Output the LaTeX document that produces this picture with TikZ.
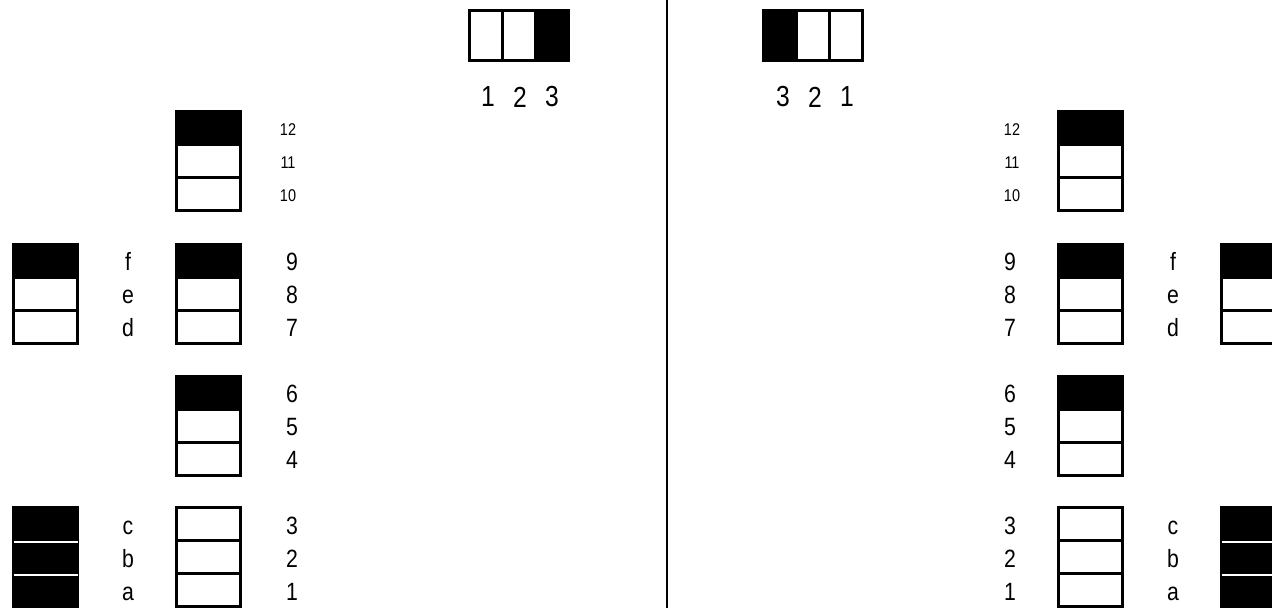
\documentclass[tikz,border=0pt]{standalone}
\usepackage{fontspec}
\setmainfont{Liberation Sans}
\newfontfamily\narrowfont[FakeStretch=0.85]{Liberation Sans}
\usetikzlibrary{positioning}
\tikzset{
  cell/.style={draw, line width=3pt, minimum width=64pt, minimum height=33pt,
               inner sep=0pt, fill=white},
  cellon/.style={cell, fill=black},
  key/.style={draw, line width=3pt, minimum width=33pt, minimum height=50pt,
              inner sep=0pt, fill=white},
  keyon/.style={key, fill=black},
  gap/.style={draw=white, line width=2pt, shorten <=1.5pt, shorten >=1.5pt},
  divider/.style={draw, line width=2.5pt},
  lbl/.style={font=\narrowfont\fontsize{25}{25}\selectfont, inner sep=0pt},
  toplbl/.style={font=\narrowfont\fontsize{29}{29}\selectfont, inner sep=0pt},
  smlbl/.style={font=\narrowfont\fontsize{17}{17}\selectfont, inner sep=0pt},
}

\begin{document}
\begin{tikzpicture}[x=1pt,y=-1pt]
  \useasboundingbox (0,0) rectangle (1272,608);
  \coordinate (divtop) at (667,0);
  \coordinate (divbot) at (667,608);
  \draw[divider] (divtop) -- (divbot);

  % switch keys at the top
  \foreach \i/\st in {1/key,2/key,3/keyon}{
    \node[\st] (kl\i) at (453+\i*33,35.5) {};
    \node[toplbl] (kll\i) at (456+\i*32,97) {\i};
    \node[\st] (kr\i) at (879-\i*33,35.5) {};
    \node[toplbl] (krl\i) at (879-\i*32,97) {\i};}

  % stacks of three cells
  \foreach \nm/\cx/\cy/\st in {s12/208.5/161/cellon, s9/208.5/294/cellon,
      s6/208.5/426/cellon, s3/208.5/557/cell, sf/45.5/294/cellon,
      t12/1090.5/161/cellon, t9/1090.5/294/cellon, t6/1090.5/426/cellon,
      t3/1090.5/557/cell, tf/1253.5/294/cellon}{
    \node[\st] (\nm3) at (\cx,\cy-33) {};
    \node[cell] (\nm2) at (\cx,\cy) {};
    \node[cell] (\nm1) at (\cx,\cy+33) {};}

  % all black stacks with white gaps
  \foreach \nm/\cx in {sc/45.5, tc/1253.5}{
    \node[cellon] (\nm3) at (\cx,524) {};
    \node[cellon] (\nm2) at (\cx,557) {};
    \node[cellon] (\nm1) at (\cx,590) {};
    \draw[gap] (\nm3.south west) -- (\nm3.south east);
    \draw[gap] (\nm2.south west) -- (\nm2.south east);}

  % labels
  \foreach \i/\y in {12/130,11/163,10/196}{
    \node[smlbl] (ln\i) at (288,\y) {\i};
    \node[smlbl] (rn\i) at (1012,\y) {\i};}
  \foreach \i/\y in {9/262,8/295,7/328,6/394,5/427,4/460,3/526,2/559,1/592}{
    \node[lbl] (ln\i) at (292,\y) {\i};
    \node[lbl] (rn\i) at (1010,\y) {\i};}
  \foreach \i/\y in {f/262,e/295,d/328,c/526,b/559,a/592}{
    \node[lbl] (ll\i) at (128,\y) {\vphantom{d}\i};
    \node[lbl] (rl\i) at (1173,\y) {\vphantom{d}\i};}
\end{tikzpicture}
\end{document}
